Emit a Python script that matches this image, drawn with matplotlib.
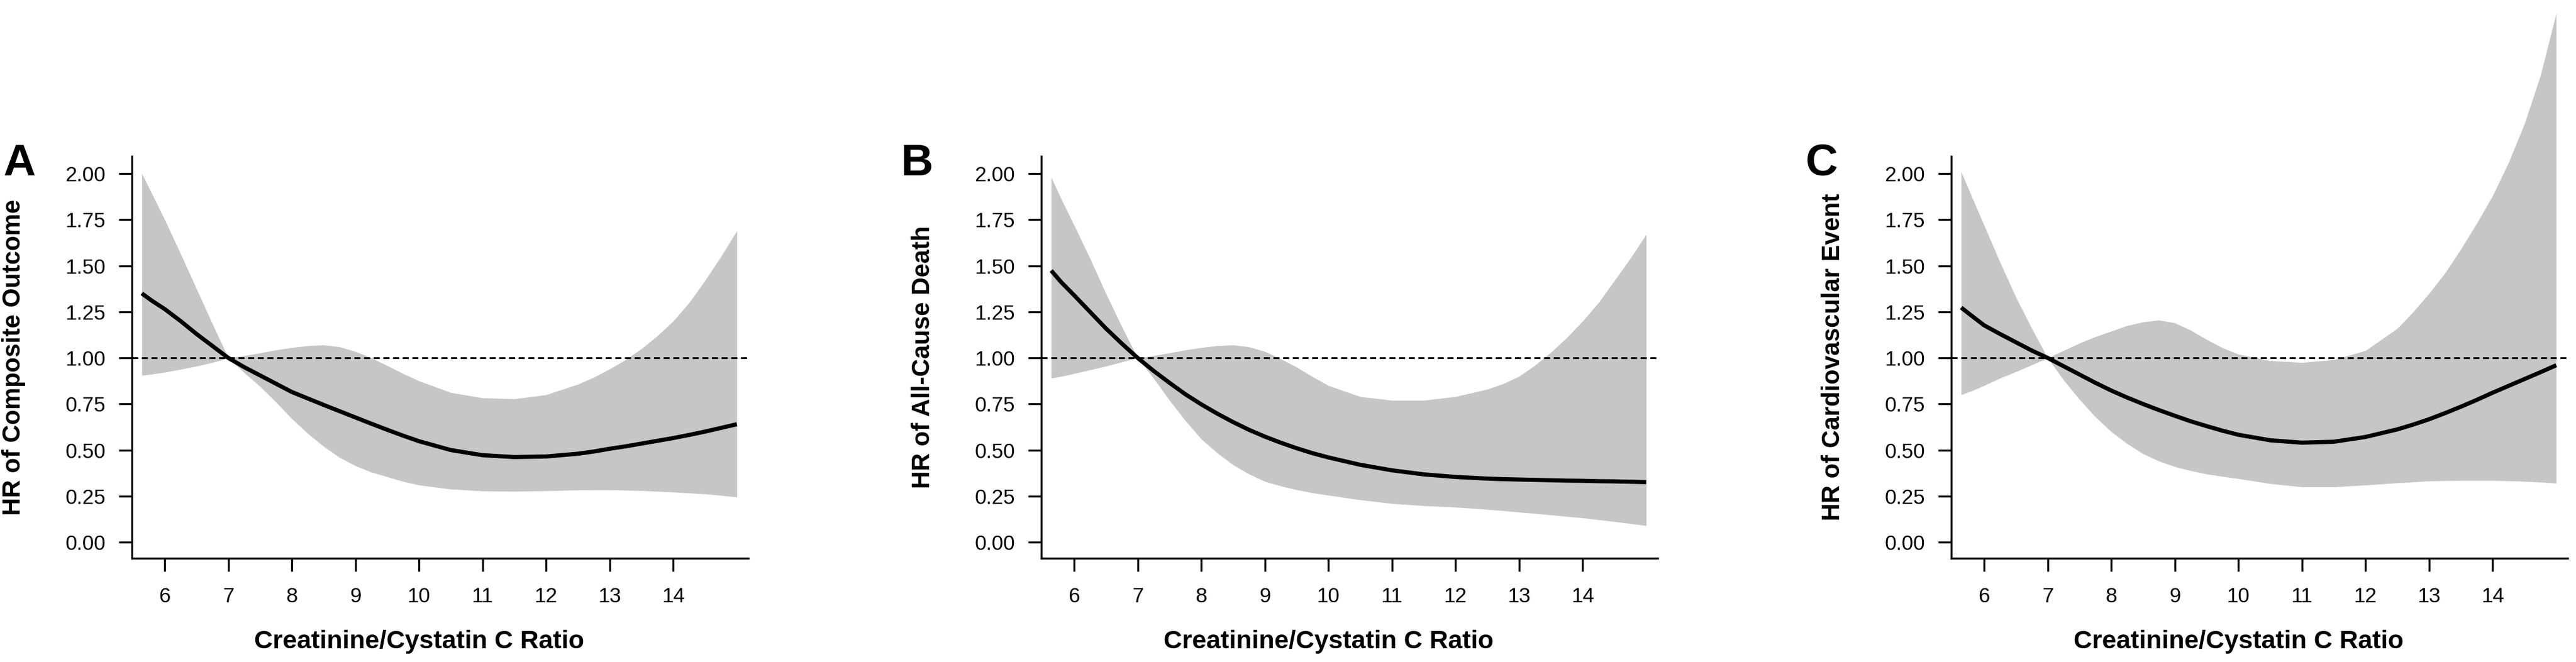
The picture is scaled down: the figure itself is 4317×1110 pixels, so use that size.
import matplotlib
matplotlib.use('Agg')
import matplotlib.pyplot as plt
from matplotlib.ticker import FormatStrFormatter

plt.rcParams['font.family'] = ['Liberation Sans', 'DejaVu Sans']

# creatinine/cystatin C ratio grid
ratio = [5.64, 5.8, 6.0, 6.25, 6.5, 6.75, 7.0, 7.25, 7.5, 7.75, 8.0, 8.25, 8.5, 8.75,
         9.0, 9.25, 9.5, 9.75, 10.0, 10.5, 11.0, 11.5, 12.0, 12.5, 12.75, 13.0, 13.25,
         13.5, 13.75, 14.0, 14.25, 14.5, 14.75, 15.0]

# A: composite outcome
hr_a = [1.35, 1.31, 1.265, 1.20, 1.13, 1.065, 1.0, 0.95, 0.905, 0.86, 0.815, 0.78, 0.745, 0.711,
        0.677, 0.643, 0.61, 0.578, 0.548, 0.50, 0.472, 0.462, 0.465, 0.48, 0.492, 0.507, 0.52,
        0.535, 0.55, 0.565, 0.582, 0.60, 0.62, 0.64]
hi_a = [2.00, 1.89, 1.75, 1.565, 1.375, 1.185, 1.0, 1.012, 1.027, 1.043, 1.056, 1.066, 1.07, 1.06,
        1.035, 1.0, 0.958, 0.915, 0.875, 0.812, 0.783, 0.778, 0.80, 0.857, 0.895, 0.94, 0.99,
        1.05, 1.12, 1.20, 1.30, 1.42, 1.55, 1.69]
lo_a = [0.905, 0.912, 0.922, 0.938, 0.955, 0.975, 1.0, 0.92, 0.845, 0.76, 0.67, 0.59, 0.52, 0.46,
        0.415, 0.38, 0.355, 0.33, 0.31, 0.288, 0.278, 0.276, 0.279, 0.283, 0.284, 0.284, 0.282,
        0.28, 0.276, 0.272, 0.267, 0.262, 0.254, 0.245]

# B: all-cause death
hr_b = [1.474, 1.41, 1.34, 1.25, 1.16, 1.078, 1.0, 0.93, 0.865, 0.803, 0.748, 0.698, 0.652, 0.61,
        0.573, 0.54, 0.51, 0.483, 0.46, 0.42, 0.39, 0.368, 0.354, 0.345, 0.342, 0.34, 0.338,
        0.336, 0.334, 0.333, 0.331, 0.33, 0.328, 0.326]
hi_b = [1.98, 1.86, 1.72, 1.54, 1.35, 1.17, 1.0, 1.012, 1.027, 1.043, 1.056, 1.066, 1.07, 1.06,
        1.035, 0.995, 0.95, 0.898, 0.85, 0.79, 0.77, 0.77, 0.79, 0.83, 0.86, 0.90, 0.96,
        1.03, 1.11, 1.20, 1.30, 1.42, 1.54, 1.67]
lo_b = [0.89, 0.90, 0.915, 0.935, 0.955, 0.978, 1.0, 0.89, 0.77, 0.66, 0.56, 0.485, 0.42, 0.37,
        0.33, 0.305, 0.285, 0.268, 0.255, 0.23, 0.21, 0.198, 0.19, 0.178, 0.171, 0.163, 0.156,
        0.148, 0.14, 0.132, 0.122, 0.112, 0.101, 0.09]

# C: cardiovascular event
hr_c = [1.273, 1.23, 1.177, 1.13, 1.085, 1.04, 1.0, 0.955, 0.91, 0.865, 0.823, 0.785, 0.75, 0.717,
        0.686, 0.656, 0.63, 0.605, 0.583, 0.553, 0.54, 0.545, 0.571, 0.612, 0.638, 0.667, 0.70,
        0.735, 0.772, 0.811, 0.848, 0.885, 0.922, 0.96]
hi_c = [2.01, 1.88, 1.72, 1.52, 1.33, 1.16, 1.0, 1.04, 1.08, 1.115, 1.145, 1.175, 1.195, 1.205,
        1.19, 1.15, 1.10, 1.055, 1.02, 0.985, 0.975, 0.99, 1.04, 1.16, 1.25, 1.35, 1.46,
        1.59, 1.73, 1.88, 2.06, 2.27, 2.53, 2.87]
lo_c = [0.80, 0.82, 0.85, 0.89, 0.925, 0.962, 1.0, 0.88, 0.775, 0.68, 0.60, 0.535, 0.48, 0.44,
        0.41, 0.388, 0.37, 0.357, 0.345, 0.318, 0.30, 0.30, 0.31, 0.322, 0.327, 0.332, 0.334,
        0.335, 0.335, 0.335, 0.333, 0.33, 0.326, 0.32]

panels = ['A', 'B', 'C']
ylabels = ['HR of Composite Outcome', 'HR of All-Cause Death', 'HR of Cardiovascular Event']
xlabel = 'Creatinine/Cystatin C Ratio'
xticks = [6, 7, 8, 9, 10, 11, 12, 13, 14]
yticks = [0.0, 0.25, 0.5, 0.75, 1.0, 1.25, 1.5, 1.75, 2.0]

W, H = 4317, 1110
fig = plt.figure(figsize=(W / 100, H / 100), dpi=100)

axis_left = [221, 1745, 3270]
letter_x = [32, 1537, 3053]
curves = [(hr_a, lo_a, hi_a), (hr_b, lo_b, hi_b), (hr_c, lo_c, hi_c)]

for i in range(3):
    hr, lo, hi = curves[i]
    ax = fig.add_axes([axis_left[i] / W, 1 - 936 / H, 1033 / W, 674 / H])
    ax.fill_between(ratio, lo, hi, color='#c6c6c6', lw=0, clip_on=False)
    ax.axhline(1.0, color='black', lw=2.2, dashes=(3.3, 2.0), clip_on=False)
    ax.plot(ratio, hr, color='black', lw=5, solid_capstyle='butt', solid_joinstyle='round')

    ax.set_xlim(5.484, 15.18)
    ax.set_ylim(-0.087, 2.094)
    for s in ['top', 'right']:
        ax.spines[s].set_visible(False)
    for s in ['left', 'bottom']:
        ax.spines[s].set_linewidth(2.4)
    ax.set_xticks(xticks)
    ax.set_yticks(yticks)
    ax.yaxis.set_major_formatter(FormatStrFormatter('%.2f'))
    ax.tick_params(axis='both', length=15.5, width=2.4, labelsize=25, pad=16)
    ax.tick_params(axis='x', pad=19)

    ax.set_ylabel(ylabels[i], fontsize=30, fontweight='bold')
    ax.yaxis.set_label_coords(-198 / 1033, 0.5)
    ax.yaxis.label.set_va('center')
    ax.text(10.0, -0.087 - 140 / 309, xlabel, fontsize=31, fontweight='bold',
            ha='center', va='center')

    fig.text(letter_x[i] / W, 1 - 274 / H, panels[i], fontsize=54, fontweight='bold',
             ha='center', va='center')

fig.savefig('out.png', dpi=100)
